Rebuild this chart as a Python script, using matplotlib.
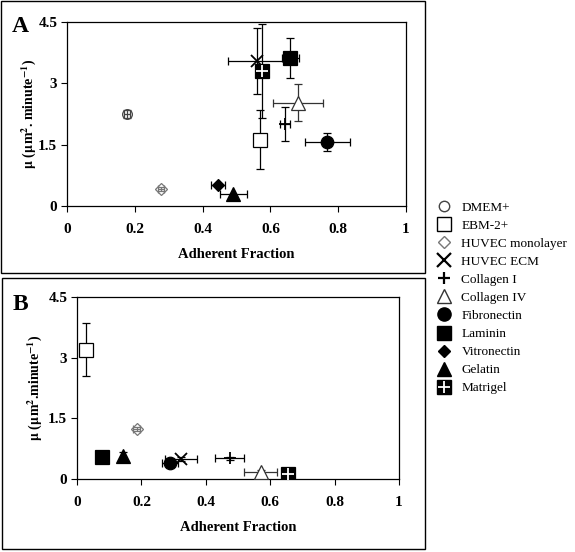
import numpy as np
import matplotlib
matplotlib.use('Agg')
import matplotlib.pyplot as plt
from matplotlib.lines import Line2D
from matplotlib.patches import Rectangle

plt.rcParams['font.family'] = ['Liberation Serif', 'DejaVu Serif']
plt.rcParams['font.weight'] = 'bold'
plt.rcParams['mathtext.fontset'] = 'stix'
plt.rcParams['mathtext.default'] = 'bf'

nan = np.nan

# conditions (legend order)
conditions = ['DMEM+', 'EBM-2+', 'HUVEC monolayer', 'HUVEC ECM', 'Collagen I',
              'Collagen IV', 'Fibronectin', 'Laminin', 'Vitronectin', 'Gelatin', 'Matrigel']

# panel A
a_x = [0.177, 0.569, 0.277, 0.560, 0.643, 0.682, 0.768, 0.658, 0.446, 0.491, 0.574]
a_y = [2.25, 1.62, 0.41, 3.55, 2.01, 2.53, 1.57, 3.61, 0.52, 0.29, 3.30]
a_xerr = [0.01, 0.0, 0.01, 0.085, 0.014, 0.074, 0.066, 0.025, 0.02, 0.04, 0.0]
a_yerr = [0.10, 0.72, 0.05, 0.80, 0.41, 0.45, 0.22, 0.49, 0.0, 0.0, 1.15]

# panel B
b_x = [nan, 0.027, 0.185, 0.323, 0.475, 0.570, 0.289, 0.077, nan, 0.144, 0.656]
b_y = [nan, 3.20, 1.24, 0.50, 0.51, 0.17, 0.39, 0.54, nan, 0.57, 0.13]
b_xerr = [0, 0.012, 0.01, 0.05, 0.045, 0.052, 0.025, 0, 0, 0, 0]
b_yerr = [0, 0.65, 0.05, 0.05, 0.03, 0.05, 0.03, 0, 0, 0.1, 0]

x_ticks = [0, 0.2, 0.4, 0.6, 0.8, 1]
x_ticklabels = ['0', '0.2', '0.4', '0.6', '0.8', '1']
y_ticks = [0, 1.5, 3, 4.5]
y_ticklabels = ['0', '1.5', '3', '4.5']

# marker, face, edge, size
styles = {
    'DMEM+': ('o', 'none', '#444444', 7),
    'EBM-2+': ('s', 'white', 'black', 10),
    'HUVEC monolayer': ('D', 'none', '#777777', 6),
    'HUVEC ECM': ('x', 'black', 'black', 9),
    'Collagen I': ('+', 'black', 'black', 8),
    'Collagen IV': ('^', 'white', '#333333', 10),
    'Fibronectin': ('o', 'black', 'black', 9),
    'Laminin': ('s', 'black', 'black', 10),
    'Vitronectin': ('D', 'black', 'black', 6),
    'Gelatin': ('^', 'black', 'black', 10),
    'Matrigel': ('s', 'black', 'black', 10),
}

fig = plt.figure(figsize=(5.75, 5.52), dpi=100)


def panel(rect, xs, ys, xerrs, yerrs, ylabel, ypad):
    ax = fig.add_axes(rect)
    for name, x, y, xe, ye in zip(conditions, xs, ys, xerrs, yerrs):
        if np.isnan(x):
            continue
        m, fc, ec, ms = styles[name]
        ax.errorbar(x, y, xerr=xe if xe else None, yerr=ye if ye else None,
                    fmt='none', ecolor=ec if ec != 'white' else 'black',
                    elinewidth=0.9, capsize=3, capthick=0.9, zorder=2)
        ax.plot(x, y, marker=m, ms=ms, mfc=fc, mec=ec, mew=1.3 if m in 'x+' else 0.9,
                ls='none', zorder=3)
        if name == 'Matrigel':
            ax.plot(x, y, marker='+', ms=ms * 0.85, mec='white', mew=1.3, ls='none', zorder=4)
    ax.set_xlim(0, 1)
    ax.set_ylim(0, 4.5)
    ax.set_xticks(x_ticks)
    ax.set_xticklabels(x_ticklabels)
    ax.set_yticks(y_ticks)
    ax.set_yticklabels(y_ticklabels)
    ax.tick_params(direction='out', length=4, width=0.8, labelsize=11)
    ax.tick_params(axis='x', pad=8)
    ax.tick_params(axis='y', pad=3)
    for s in ax.spines.values():
        s.set_linewidth(0.9)
    ax.set_xlabel('Adherent Fraction', fontsize=10.5, fontweight='bold', labelpad=9)
    ax.set_ylabel(ylabel, fontsize=10, fontweight='bold', labelpad=ypad)
    return ax


axA = panel([67 / 575, 1 - 206 / 552, 339 / 575, 184 / 552], a_x, a_y, a_xerr, a_yerr,
            r'$\mu$ ($\mu$m$^{2}$. minute$^{-1}$)', 0)
axB = panel([77 / 575, 1 - 479 / 552, 322 / 575, 182 / 552], b_x, b_y, b_xerr, b_yerr,
            r'$\mu$ ($\mu$m$^{2}$.minute$^{-1}$)', 3)

fig.text(20 / 575, 1 - 26 / 552, 'A', fontsize=17, fontweight='bold', ha='center', va='center')
fig.text(20 / 575, 1 - 305 / 552, 'B', fontsize=17, fontweight='bold', ha='center', va='center')

# panel frames
fig.patches.append(Rectangle((1 / 575, 1 - 273 / 552), 424 / 575, 272 / 552,
                             transform=fig.transFigure, fill=False, lw=1.0, ec='black'))
fig.patches.append(Rectangle((2 / 575, 1 - 549 / 552), 423 / 575, 271 / 552,
                             transform=fig.transFigure, fill=False, lw=1.0, ec='black'))

# legend
handles = []
for name in conditions:
    m, fc, ec, ms = styles[name]
    h = Line2D([], [], marker=m, ls='none', ms=ms + 0.5, mfc=fc, mec=ec,
               mew=1.6 if m in 'x+' else 1.0)
    if name == 'Matrigel':
        h = (h, Line2D([], [], marker='+', ls='none', ms=ms * 0.85, mec='white', mew=1.3))
    handles.append(h)
fig.legend(handles, conditions, loc='upper left', bbox_to_anchor=(431 / 575, 1 - 195 / 552),
           frameon=False, prop={'family': 'Liberation Serif', 'weight': 'normal', 'size': 9.5},
           handlelength=1.0, handletextpad=0.8, labelspacing=0.44, borderpad=0)

fig.savefig('out.png', dpi=100)
